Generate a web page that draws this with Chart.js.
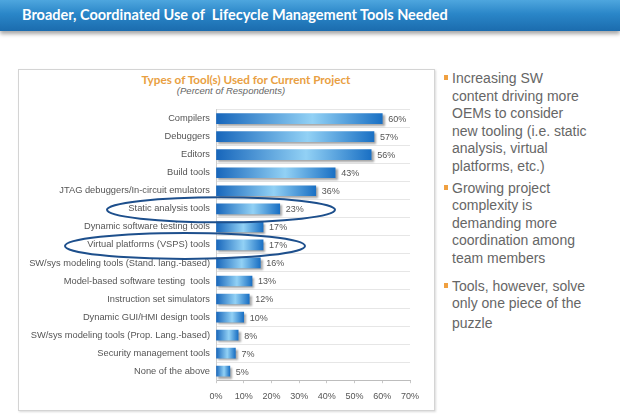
<!DOCTYPE html>
<html>
<head>
<meta charset="utf-8">
<script src="https://cdn.jsdelivr.net/npm/chart.js@4.4.1/dist/chart.umd.min.js"></script>
<style>
  body { margin: 0; width: 620px; height: 420px; background: #fff; position: relative; overflow: hidden; font-family: "Liberation Sans", Arial, sans-serif; }
  #header {
    position: absolute; left: 0; top: 0; width: 620px; height: 31px;
    background: linear-gradient(180deg, #4ea6de 0%, #2a86c8 45%, #1b6cae 100%);
    box-shadow: 0 3px 4px rgba(0,0,0,0.35);
  }
  #header span {
    position: absolute; left: 22px; top: 6px; color: #fff; font-family: Lato, sans-serif;
    font-weight: bold; font-size: 14.5px; white-space: pre;
  }
  #panel {
    position: absolute; left: 18px; top: 69px; width: 415px; height: 340px;
    border: 1px solid #d4d4d4; box-shadow: 1px 1px 2px rgba(0,0,0,0.15);
  }
  #chartTitle {
    position: absolute; left: 100px; top: 72px; width: 292px; text-align: center;
    font-family: Lato, sans-serif; font-weight: bold; font-size: 11.7px; color: #e9a042;
  }
  #chartSub {
    position: absolute; left: 110px; top: 85px; width: 242px; text-align: center;
    font-style: italic; font-size: 9.5px; color: #666;
  }
  #chartBox { position: absolute; left: 20px; top: 98px; width: 410px; height: 312px; }
  #notes {
    position: absolute; left: 452px; top: 70px; width: 168px;
    font-size: 14px; line-height: 17.6px; color: #666; white-space: nowrap;
  }
  #notes p { margin: 0 0 4px 0; position: relative; }
  #notes p::before {
    content: ""; position: absolute; left: -8px; top: 5px; width: 4px; height: 5px; background: #f0a040;
  }
</style>
</head>
<body>
<div id="header"><span>Broader, Coordinated Use of  Lifecycle Management Tools Needed</span></div>
<div id="panel"></div>
<div id="chartTitle">Types of Tool(s) Used for Current Project</div>
<div id="chartSub">(Percent of Respondents)</div>
<div id="chartBox"><canvas id="toolsChart"></canvas></div>
<div id="notes">
  <p>Increasing SW<br>content driving more<br>OEMs to consider<br>new tooling (i.e. static<br>analysis, virtual<br>platforms, etc.)</p>
  <p>Growing project<br>complexity is<br>demanding more<br>coordination among<br>team members</p>
  <p style="margin-top:10px">Tools, however, solve<br>only one piece of the<br><span style="display:inline-block;margin-top:2px">puzzle</span></p>
</div>
<script>
const categories = [
  'Compilers',
  'Debuggers',
  'Editors',
  'Build tools',
  'JTAG debuggers/In-circuit emulators',
  'Static analysis tools',
  'Dynamic software testing tools',
  'Virtual platforms (VSPS) tools',
  'SW/sys modeling tools (Stand. lang.-based)',
  'Model-based software testing  tools',
  'Instruction set simulators',
  'Dynamic GUI/HMI design tools',
  'SW/sys modeling tools (Prop. Lang.-based)',
  'Security management tools',
  'None of the above'
];
const percentValues = [60, 57, 56, 43, 36, 23, 17, 17, 16, 13, 12, 10, 8, 7, 5];
const xTicks = [0, 10, 20, 30, 40, 50, 60, 70];
const circledRows = [5, 7];

function barGradient(context) {
    const chart = context.chart;
    const xScale = chart.scales.x;
    if (!chart.chartArea || !xScale) return '#2a80c8';
    const x0 = xScale.getPixelForValue(0);
    const x1 = xScale.getPixelForValue(context.raw);
    const g = chart.ctx.createLinearGradient(x0, 0, Math.max(x1, x0 + 1), 0);
    g.addColorStop(0, '#1766bb');
    g.addColorStop(0.58, '#92d1f5');
    g.addColorStop(1, '#1a70c4');
    return g;
}

const barShadow = {
    id: 'barShadow',
    beforeDatasetDraw(chart) {
        const ctx = chart.ctx;
        ctx.save();
        ctx.shadowColor = 'rgba(0,0,0,0.35)';
        ctx.shadowOffsetX = 2;
        ctx.shadowOffsetY = 2;
        ctx.shadowBlur = 2;
    },
    afterDatasetDraw(chart) {
        chart.ctx.restore();
    }
};

const valueLabels = {
    id: 'valueLabels',
    afterDatasetsDraw(chart) {
        const ctx = chart.ctx;
        const meta = chart.getDatasetMeta(0);
        ctx.save();
        ctx.font = '9px "Liberation Sans", Arial, sans-serif';
        ctx.fillStyle = '#555';
        ctx.textBaseline = 'middle';
        meta.data.forEach((bar, i) => {
            ctx.fillText(percentValues[i] + '%', bar.x + 6, bar.y + 1);
        });
        ctx.restore();
    }
};

// ovals around the highlighted rows
const rowOvals = {
    id: 'rowOvals',
    afterDraw(chart) {
        const ctx = chart.ctx;
        const yScale = chart.scales.y;
        const left = chart.chartArea.left;
        const shapes = [
            { row: circledRows[0], cx: left + 5, rx: 114, ry: 12.5 },
            { row: circledRows[1], cx: left - 31, rx: 120, ry: 13 }
        ];
        ctx.save();
        ctx.strokeStyle = '#1d4f8c';
        ctx.lineWidth = 2;
        shapes.forEach(s => {
            const cy = yScale.getPixelForValue(s.row) + 1;
            ctx.beginPath();
            ctx.ellipse(s.cx, cy, s.rx, s.ry, 0, 0, Math.PI * 2);
            ctx.stroke();
        });
        ctx.restore();
    }
};

new Chart(document.getElementById('toolsChart'), {
    type: 'bar',
    data: {
        labels: categories,
        datasets: [{
            data: percentValues,
            backgroundColor: barGradient,
            barThickness: 10
        }]
    },
    options: {
        indexAxis: 'y',
        responsive: true,
        maintainAspectRatio: false,
        animation: false,
        layout: { padding: { top: 6, right: 20, left: 0, bottom: 0 } },
        plugins: {
            legend: { display: false },
            tooltip: { enabled: false }
        },
        scales: {
            x: {
                min: 0,
                max: 70,
                afterBuildTicks(scale) {
                    scale.ticks = xTicks.map(v => ({ value: v }));
                },
                ticks: {
                    callback: v => v + '%',
                    font: { size: 9, family: '"Liberation Sans", Arial, sans-serif' },
                    color: '#555',
                    padding: 8
                },
                grid: { drawOnChartArea: false, tickLength: 3, color: '#c8c8c8' },
                border: { color: '#bdbdbd' }
            },
            y: {
                afterFit(scale) { scale.width = 196; },
                ticks: {
                    font: { size: 9.3, family: '"Liberation Sans", Arial, sans-serif' },
                    color: '#555',
                    padding: 6
                },
                grid: { color: '#e6e6e6', drawTicks: false, offset: true },
                border: { color: '#cfcfcf' }
            }
        }
    },
    plugins: [barShadow, valueLabels, rowOvals]
});
</script>
</body>
</html>
